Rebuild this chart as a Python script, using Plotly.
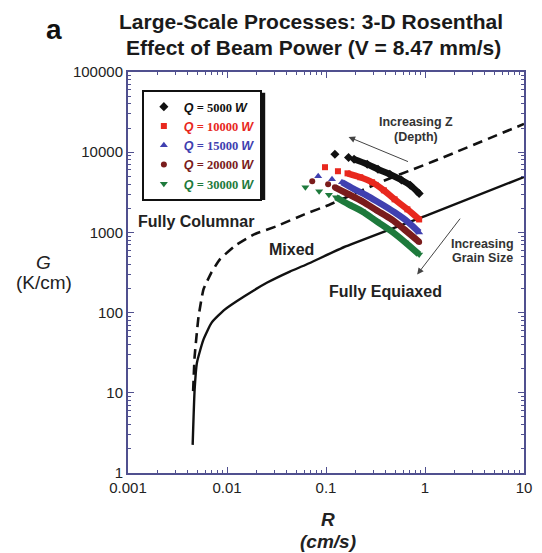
import plotly.graph_objects as go

# ---------------- data ----------------
# boundary curves (R in cm/s, G in K/cm)
solid_R = [0.0045, 0.00471, 0.00497, 0.00578, 0.0070, 0.00948, 0.0150, 0.0255, 0.0431, 0.0634, 0.158, 1.0, 10.0]
solid_G = [2.24, 10.9, 23.7, 46, 75, 109, 160, 237, 325, 398, 668, 1600, 4900]

dash_R = [0.00455, 0.00471, 0.00516, 0.00578, 0.00695, 0.00847, 0.0119, 0.0188, 0.032, 0.0605, 0.107, 0.375, 1.22, 10.0]
dash_G = [10.5, 28.2, 89, 194, 316, 460, 674, 944, 1200, 1680, 2200, 4350, 7700, 22500]

# Q = 5000 W
q5_iso_R = [0.123, 0.169]
q5_iso_G = [9440, 8600]
q5_R = [0.192, 0.261, 0.335, 0.441, 0.578, 0.709, 0.873]
q5_G = [8180, 7080, 6130, 5310, 4500, 3870, 3050]
# Q = 10000 W
q10_iso_R = [0.0977, 0.132]
q10_iso_G = [6500, 5790]
q10_R = [0.165, 0.222, 0.292, 0.384, 0.493, 0.664, 0.873]
q10_G = [5450, 4870, 4220, 3350, 2585, 1940, 1450]
# Q = 15000 W
q15_iso_R = [0.0834, 0.115]
q15_iso_G = [5000, 4600]
q15_R = [0.145, 0.194, 0.267, 0.366, 0.493, 0.664, 0.873]
q15_G = [4220, 3450, 2820, 2240, 1780, 1370, 1000]
# Q = 20000 W
q20_iso_R = [0.0726, 0.105]
q20_iso_G = [4340, 3980]
q20_R = [0.123, 0.169, 0.232, 0.327, 0.46, 0.634, 0.873]
q20_G = [3650, 2990, 2440, 1880, 1450, 1060, 760]
# Q = 30000 W
q30_iso_R = [0.0619, 0.0853, 0.107]
q30_iso_G = [3650, 3250, 2950]
q30_R = [0.126, 0.169, 0.232, 0.327, 0.46, 0.634, 0.873]
q30_G = [2740, 2240, 1830, 1370, 1030, 750, 531]

series_labels = ["5000", "10000", "15000", "20000", "30000"]

x_tickvals = [0.001, 0.01, 0.1, 1, 10]
x_ticktext = ["0.001", "0.01", "0.1", "1", "10"]
y_tickvals = [1, 10, 100, 1000, 10000, 100000]
y_ticktext = ["1", "10", "100", "1000", "10000", "100000"]

# minor tick positions (2..9 in each decade)
x_minor = [d * 10.0 ** k for k in range(-3, 1) for d in range(2, 10)]
y_minor = [d * 10.0 ** k for k in range(0, 5) for d in range(2, 10)]

# ---------------- figure ----------------
SANS = "Liberation Sans, Arial, sans-serif"
SERIF = "Liberation Serif, Times New Roman, serif"

fig = go.Figure()

fig.add_trace(go.Scatter(x=dash_R, y=dash_G, mode="lines", showlegend=False,
                         line=dict(color="#111", width=2.6, dash="10px,6px", shape="spline", smoothing=0.4),
                         hoverinfo="skip"))
fig.add_trace(go.Scatter(x=solid_R, y=solid_G, mode="lines", showlegend=False,
                         line=dict(color="#111", width=2.4, shape="spline", smoothing=0.5),
                         hoverinfo="skip"))

styles = [
    ("#111111", "diamond", 7),
    ("#e8281e", "square", 6),
    ("#4040b0", "triangle-up", 7),
    ("#7a1c1c", "circle", 6),
    ("#1e7a3c", "triangle-down", 7),
]
data_sets = [
    (q5_iso_R, q5_iso_G, q5_R, q5_G),
    (q10_iso_R, q10_iso_G, q10_R, q10_G),
    (q15_iso_R, q15_iso_G, q15_R, q15_G),
    (q20_iso_R, q20_iso_G, q20_R, q20_G),
    (q30_iso_R, q30_iso_G, q30_R, q30_G),
]

for lab, (col, sym, sz), (iR, iG, dR, dG) in zip(series_labels, styles, data_sets):
    name = (f"<span style='color:{col}'><b><i>Q</i></b>"
            f"<span style='font-family:{SERIF}'><b> = {lab} </b></span>"
            f"<b><i>W</i></b></span>")
    fig.add_trace(go.Scatter(x=dR, y=dG, mode="lines+markers", showlegend=False,
                             legendgroup=lab,
                             line=dict(color=col, width=6.5, shape="spline"),
                             marker=dict(color=col, symbol=sym, size=sz)))
    fig.add_trace(go.Scatter(x=iR, y=iG, mode="markers", name=name, legendgroup=lab,
                             marker=dict(color=col, symbol=sym, size=sz)))

axis_col = "#50508f"
common_axis = dict(
    type="log", showline=True, linecolor=axis_col, linewidth=2, mirror="allticks",
    ticks="inside", ticklen=6, tickcolor=axis_col, tickwidth=1,
    showgrid=False, zeroline=False,
    tickfont=dict(family=SANS, size=15, color="#222"),
)

fig.update_xaxes(range=[-3, 1], tickvals=x_tickvals, ticktext=x_ticktext,
                 minor=dict(tickvals=x_minor, ticks="inside", ticklen=3, tickcolor=axis_col,
                            tickwidth=1, showgrid=False),
                 **common_axis)
fig.update_yaxes(range=[0, 5], tickvals=y_tickvals, ticktext=y_ticktext,
                 minor=dict(tickvals=y_minor, ticks="inside", ticklen=3, tickcolor=axis_col,
                            tickwidth=1, showgrid=False),
                 **common_axis)

def pa(text, x, y, size, color="#1a1a1a"):
    return dict(text=text, x=x, y=y, xref="paper", yref="paper", xanchor="center", yanchor="middle",
                font=dict(family=SANS, size=size, color=color), showarrow=False)

def da(text, x, y, size, color="#222"):
    return dict(text=text, x=x, y=y, xref="x", yref="y", xanchor="center", yanchor="middle",
                font=dict(family=SANS, size=size, color=color), showarrow=False)

anns = [
    pa("<b>a</b>", -0.186, 1.105, 28, "#111"),
    pa("<b>Large-Scale Processes: 3-D Rosenthal</b>", 0.463, 1.125, 21),
    pa("<b>Effect of Beam Power (V = 8.47 mm/s)</b>", 0.468, 1.060, 21),
    pa("<i>G</i>", -0.213, 0.526, 19, "#222"),
    pa("(K/cm)", -0.213, 0.474, 19, "#222"),
    pa("<b><i>R</i></b>", 0.505, -0.115, 19, "#222"),
    pa("<b><i>(cm/s)</i></b>", 0.505, -0.170, 19, "#222"),
    da("<b>Fully Columnar</b>", -2.317, 3.1375, 16),
    da("<b>Mixed</b>", -1.347, 2.79, 16),
    da("<b>Fully Equiaxed</b>", -0.396, 2.26, 16),
    da("<b>Increasing Z</b>", -0.089, 4.375, 12.5, "#333"),
    da("<b>(Depth)</b>", -0.089, 4.19, 12.5, "#333"),
    da("<b>Increasing</b>", 0.584, 2.86, 12.5, "#333"),
    da("<b>Grain Size</b>", 0.584, 2.675, 12.5, "#333"),
    # arrows
    dict(x=-0.772, y=4.19, ax=-0.157, ay=3.875, xref="x", yref="y", axref="x", ayref="y",
         text="", showarrow=True, arrowhead=2, arrowsize=1.3, arrowwidth=1, arrowcolor="#444"),
    dict(x=-0.079, y=2.475, ax=0.366, ay=3.19, xref="x", yref="y", axref="x", ayref="y",
         text="", showarrow=True, arrowhead=2, arrowsize=1.3, arrowwidth=1, arrowcolor="#444"),
]

# drop shadow behind the legend box
shapes = [dict(type="rect", xref="paper", yref="paper", x0=0.042, x1=0.3465, y0=0.681, y1=0.948,
               fillcolor="#111", line=dict(width=0), layer="above")]

fig.update_layout(
    width=534, height=545, autosize=False,
    margin=dict(l=120, r=10, t=64, b=80),
    paper_bgcolor="white", plot_bgcolor="white",
    annotations=anns, shapes=shapes,
    legend=dict(x=0.035, y=0.955, xanchor="left", yanchor="top",
                bgcolor="white", bordercolor="#111", borderwidth=2,
                font=dict(family=SANS, size=12.5, color="#111"),
                itemsizing="trace", tracegroupgap=0),
)

fig.write_html("out.html")
